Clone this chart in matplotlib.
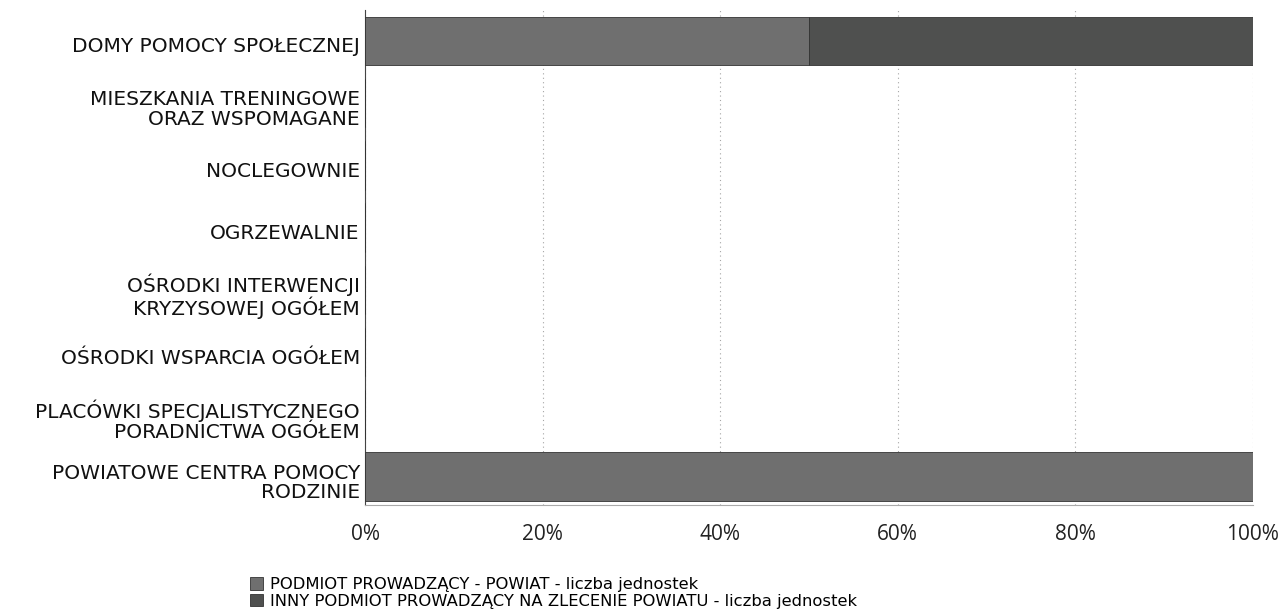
import matplotlib
matplotlib.use("Agg")
import matplotlib.pyplot as plt
import matplotlib.transforms as mtransforms
import numpy as np

categories = [
    "DOMY POMOCY SPOŁECZNEJ",
    "MIESZKANIA TRENINGOWE\nORAZ WSPOMAGANE",
    "NOCLEGOWNIE",
    "OGRZEWALNIE",
    "OŚRODKI INTERWENCJI\nKRYZYSOWEJ OGÓŁEM",
    "OŚRODKI WSPARCIA OGÓŁEM",
    "PLACÓWKI SPECJALISTYCZNEGO\nPORADNICTWA OGÓŁEM",
    "POWIATOWE CENTRA POMOCY\nRODZINIE",
]
powiat = [1, 0, 0, 0, 0, 0, 0, 1]
inny = [1, 0, 0, 0, 0, 0, 0, 0]
series_labels = [
    "PODMIOT PROWADZĄCY - POWIAT - liczba jednostek",
    "INNY PODMIOT PROWADZĄCY NA ZLECENIE POWIATU - liczba jednostek",
]
xticks = [0, 20, 40, 60, 80, 100]
xticklabels = ["0%", "20%", "40%", "60%", "80%", "100%"]

plt.rcParams['font.family'] = ['DejaVu Sans']

p = np.array(powiat, float)
q = np.array(inny, float)
tot = p + q
tot[tot == 0] = 1
pp = p / tot * 100
qp = q / tot * 100

fig = plt.figure(figsize=(12.82, 6.14), dpi=100)
ax = fig.add_axes([0.285, 0.178, 0.692, 0.806])

y = np.arange(len(categories))
c1 = "#6f6f6f"
c2 = "#4f504f"
ax.barh(y, pp, height=0.78, color=c1, edgecolor="#333333", linewidth=0.6,
        label=series_labels[0], zorder=3)
ax.barh(y, qp, left=pp, height=0.78, color=c2, edgecolor="#333333", linewidth=0.6,
        label=series_labels[1], zorder=3)

ax.set_xlim(0, 100)
ax.set_ylim(7.45, -0.5)
ax.set_yticks(y)
ax.set_yticklabels(categories, fontsize=14.5, linespacing=1.05, color="#111111")
ax.set_xticks(xticks)
ax.set_xticklabels(xticklabels, fontsize=15, family=["Open Sans", "DejaVu Sans"],
                   color="#222222")
ax.tick_params(axis='y', length=0, pad=4)
ax.tick_params(axis='x', length=0, pad=14)
off = mtransforms.ScaledTranslation(0, -4 / 100, fig.dpi_scale_trans)
for lbl in ax.get_yticklabels():
    lbl.set_transform(lbl.get_transform() + off)
ax.xaxis.grid(True, linestyle=(0, (1, 3)), color="#a5a5a5", linewidth=0.8, zorder=0)
for s in ["top", "right"]:
    ax.spines[s].set_visible(False)
ax.spines["left"].set_color("#444444")
ax.spines["bottom"].set_color("#aaaaaa")

handles, labels = ax.get_legend_handles_labels()
fig.legend(handles, labels, loc="upper left", bbox_to_anchor=(0.195, 0.060),
           frameon=False, fontsize=11.8, handlelength=0.8, handleheight=0.8,
           handletextpad=0.4, labelspacing=0.1, borderaxespad=0, borderpad=0)

fig.savefig("out.png", dpi=100, facecolor="white")
